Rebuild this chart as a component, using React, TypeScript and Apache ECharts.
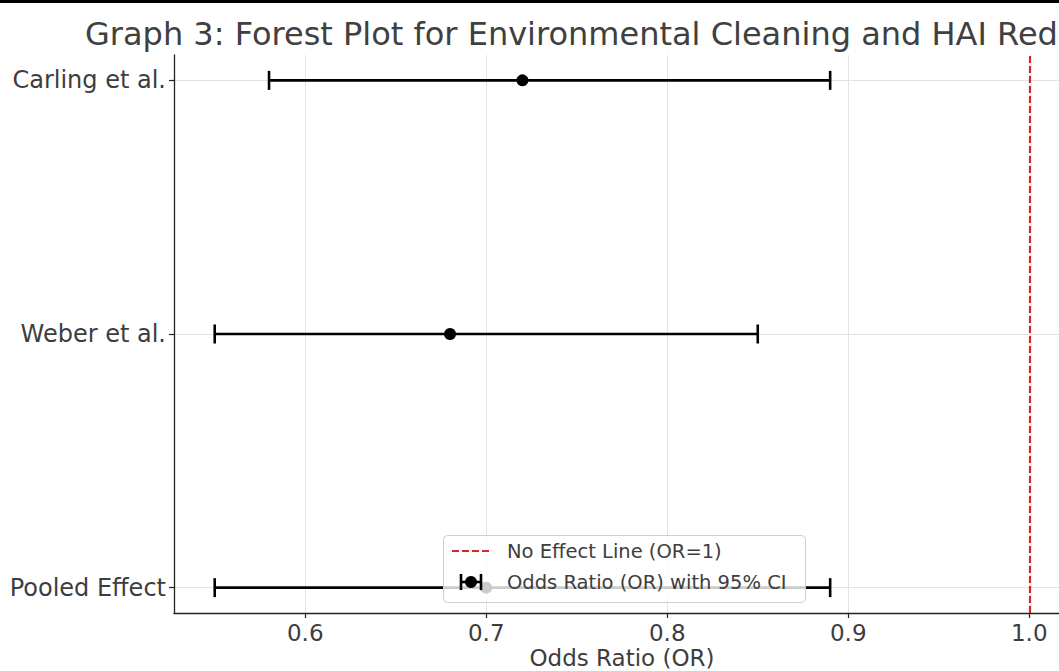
import React, { useEffect, useRef } from "react";
import * as echarts from "echarts";

const studies = ["Carling et al.", "Weber et al.", "Pooled Effect"];
const oddsRatios = [0.72, 0.68, 0.70];
const ciLower = [0.58, 0.55, 0.55];
const ciUpper = [0.89, 0.85, 0.89];
const xTicks = [0.6, 0.7, 0.8, 0.9, 1.0];
const noEffect = 1.0;
const titleText = "Graph 3: Forest Plot for Environmental Cleaning and HAI Reduction";
const xAxisName = "Odds Ratio (OR)";
const legendLabels = ["No Effect Line (OR=1)", "Odds Ratio (OR) with 95% CI"];

const FONT = "DejaVu Sans";
const TEXT = "#3d3d3d";

export default function App() {
  const ref = useRef<HTMLDivElement>(null);
  useEffect(() => {
    if (!ref.current) return;
    const chart = echarts.init(ref.current, undefined, { renderer: "svg" });
    const n = studies.length;
    const yPos = studies.map((_, i) => n - 1 - i);
    const lo = Math.min(...ciLower, noEffect);
    const hi = Math.max(...ciUpper, noEffect);
    const pad = (hi - lo) * 0.05;
    const yPad = (n - 1) * 0.05;
    const yTicks = yPos.slice().sort();

    const cap = 9.5;
    const lw = 2.6;

    chart.setOption({
      animation: false,
      grid: { left: 174, top: 55, width: 896, height: 558, containLabel: false, outerBoundsMode: "none" },
      xAxis: {
        type: "value",
        min: lo - pad,
        max: hi + pad,
        axisLine: { show: true, onZero: false, lineStyle: { color: "#222", width: 1.3 } },
        axisTick: { show: true, inside: false, length: 5, customValues: xTicks, lineStyle: { color: "#222", width: 1.2 } },
        axisLabel: {
          customValues: xTicks,
          formatter: (v: number) => v.toFixed(1),
          fontSize: 23,
          fontFamily: FONT,
          color: TEXT,
          margin: 8,
        },
        splitLine: { show: true, lineStyle: { color: "#e3e3e3", width: 1 } },
        name: xAxisName,
        nameLocation: "middle",
        nameGap: 32,
        nameMoveOverlap: false,
        nameTextStyle: { fontSize: 23, fontFamily: FONT, color: TEXT, lineHeight: 26 },
      },
      yAxis: {
        type: "value",
        min: -yPad,
        max: n - 1 + yPad,
        axisLine: { show: true, onZero: false, lineStyle: { color: "#222", width: 1.3 } },
        axisTick: { show: true, inside: false, length: 5, customValues: yTicks, lineStyle: { color: "#222", width: 1.2 } },
        axisLabel: {
          customValues: yTicks,
          formatter: (v: number) => studies[n - 1 - Math.round(v)],
          fontSize: 24,
          fontFamily: FONT,
          color: TEXT,
          margin: 8,
        },
        splitLine: { show: true, lineStyle: { color: "#e3e3e3", width: 1 } },
      },
      series: [
        {
          type: "custom",
          z: 3,
          renderItem: (params: any, api: any) => {
            const y = api.value(0);
            const a = api.coord([api.value(1), y]);
            const b = api.coord([api.value(2), y]);
            const st = { stroke: "#000", lineWidth: lw };
            return {
              type: "group",
              children: [
                { type: "line", shape: { x1: a[0], y1: a[1], x2: b[0], y2: b[1] }, style: st },
                { type: "line", shape: { x1: a[0], y1: a[1] - cap, x2: a[0], y2: a[1] + cap }, style: st },
                { type: "line", shape: { x1: b[0], y1: b[1] - cap, x2: b[0], y2: b[1] + cap }, style: st },
              ],
            };
          },
          encode: { x: [1, 2], y: 0 },
          data: yPos.map((y, i) => [y, ciLower[i], ciUpper[i]]),
        },
        {
          type: "scatter",
          z: 4,
          symbol: "circle",
          symbolSize: 12,
          itemStyle: { color: "#000", opacity: 1 },
          data: yPos.map((y, i) => [oddsRatios[i], y]),
          markLine: {
            silent: true,
            symbol: "none",
            label: { show: false },
            lineStyle: { color: "#d62728", type: [7, 3], width: 2.2, opacity: 1 },
            data: [{ xAxis: noEffect }],
          },
        },
      ],
      graphic: [
        { type: "rect", left: 0, top: 0, shape: { width: 1059, height: 3 }, style: { fill: "#000" }, z: 100 },
        {
          type: "text",
          x: 85,
          y: 34,
          z: 100,
          style: { text: titleText, fontSize: 32, fontFamily: FONT, fill: "#404040", textVerticalAlign: "middle", textAlign: "left" },
        },
        {
          type: "group",
          z: 100,
          children: [
            {
              type: "rect",
              shape: { x: 443.5, y: 535.5, width: 362, height: 67, r: 4 },
              style: { fill: "rgba(255,255,255,0.8)", stroke: "#cfcfcf", lineWidth: 1 },
              z: 100,
            },
            {
              type: "line",
              shape: { x1: 452, y1: 551, x2: 490, y2: 551 },
              style: { stroke: "#d62728", lineWidth: 2.2, lineDash: [7, 3] },
              z: 101,
            },
            {
              type: "text",
              x: 507,
              y: 551,
              z: 101,
              style: { text: legendLabels[0], fontSize: 19.5, fontFamily: FONT, fill: TEXT, textVerticalAlign: "middle" },
            },
            { type: "line", shape: { x1: 461, y1: 582, x2: 481, y2: 582 }, style: { stroke: "#000", lineWidth: lw }, z: 101 },
            { type: "line", shape: { x1: 461, y1: 582 - cap * 0.85, x2: 461, y2: 582 + cap * 0.85 }, style: { stroke: "#000", lineWidth: lw }, z: 101 },
            { type: "line", shape: { x1: 481, y1: 582 - cap * 0.85, x2: 481, y2: 582 + cap * 0.85 }, style: { stroke: "#000", lineWidth: lw }, z: 101 },
            { type: "circle", shape: { cx: 471, cy: 582, r: 6 }, style: { fill: "#000" }, z: 102 },
            {
              type: "text",
              x: 507,
              y: 582,
              z: 101,
              style: { text: legendLabels[1], fontSize: 19.5, fontFamily: FONT, fill: TEXT, textVerticalAlign: "middle" },
            },
          ],
        },
      ],
    });
    return () => chart.dispose();
  }, []);
  return (
    <div
      ref={ref}
      style={{ position: "fixed", left: 0, top: 0, width: 1059, height: 671, background: "#fff" }}
    />
  );
}
